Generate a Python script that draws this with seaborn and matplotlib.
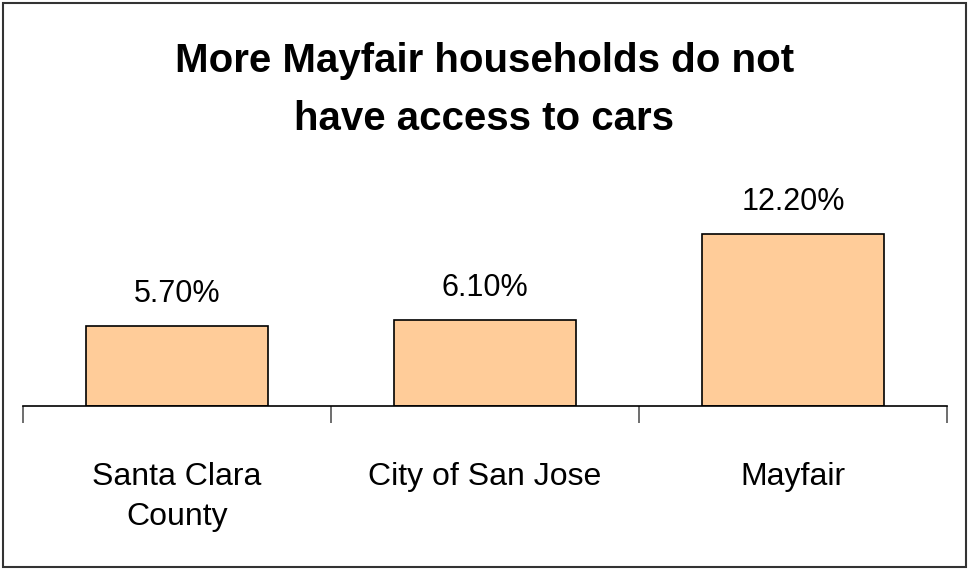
import matplotlib
matplotlib.use("Agg")
import matplotlib.pyplot as plt
import seaborn as sns
import pandas as pd
from matplotlib.patches import Rectangle

# values
categories = ["Santa Clara\nCounty", "City of San Jose", "Mayfair"]
pct_no_car = [5.7, 6.1, 12.2]
value_labels = ["5.70%", "6.10%", "12.20%"]
title_text = "More Mayfair households do not\nhave access to cars"

sns.set_theme(style="white")
plt.rcParams["font.family"] = ["Liberation Sans", "DejaVu Sans"]
plt.rcParams["text.color"] = "black"
plt.rcParams["xtick.color"] = "black"

df = pd.DataFrame({"place": categories, "pct": pct_no_car})

fig = plt.figure(figsize=(9.69, 5.70), dpi=100)
ax = fig.add_axes([23 / 969, (570 - 406) / 570, (947 - 23) / 969, (406 - 223) / 570])

sns.barplot(data=df, x="place", y="pct", color="#FFCC99", edgecolor="black",
            linewidth=1.2, width=0.59, saturation=1, ax=ax)

for i, (v, lab) in enumerate(zip(pct_no_car, value_labels)):
    ax.text(i, v + 1.2, lab, ha="center", va="bottom", fontsize=22, color="black")

ax.set_xlim(-0.5, 2.5)
ax.set_ylim(0, 13)
ax.set_xlabel("")
ax.set_ylabel("")
ax.set_yticks([])
for side in ["top", "right", "left"]:
    ax.spines[side].set_visible(False)
ax.spines["bottom"].set_color("black")
ax.spines["bottom"].set_linewidth(1.2)

# boundary ticks (major) and centered labels (minor)
ax.set_xticks([-0.5, 0.5, 1.5, 2.5])
ax.set_xticklabels([])
ax.tick_params(axis="x", which="major", direction="out", length=12, width=1.2,
               color="#555555", bottom=True)
ax.set_xticks([0, 1, 2], minor=True)
ax.set_xticklabels(categories, minor=True, fontsize=23, linespacing=1.45, va="top",
                   color="black")
ax.tick_params(axis="x", which="minor", length=0, pad=40)

fig.text(0.5, 1 - 42 / 570, title_text, ha="center", va="top", fontsize=29,
         fontweight="bold", linespacing=1.65, color="black")

fig.patches.append(Rectangle((3 / 969, 3 / 570), 963 / 969, 564 / 570,
                             transform=fig.transFigure, fill=False,
                             edgecolor="#333333", linewidth=1.5))

fig.savefig("out.png", dpi=100)
plt.close(fig)
